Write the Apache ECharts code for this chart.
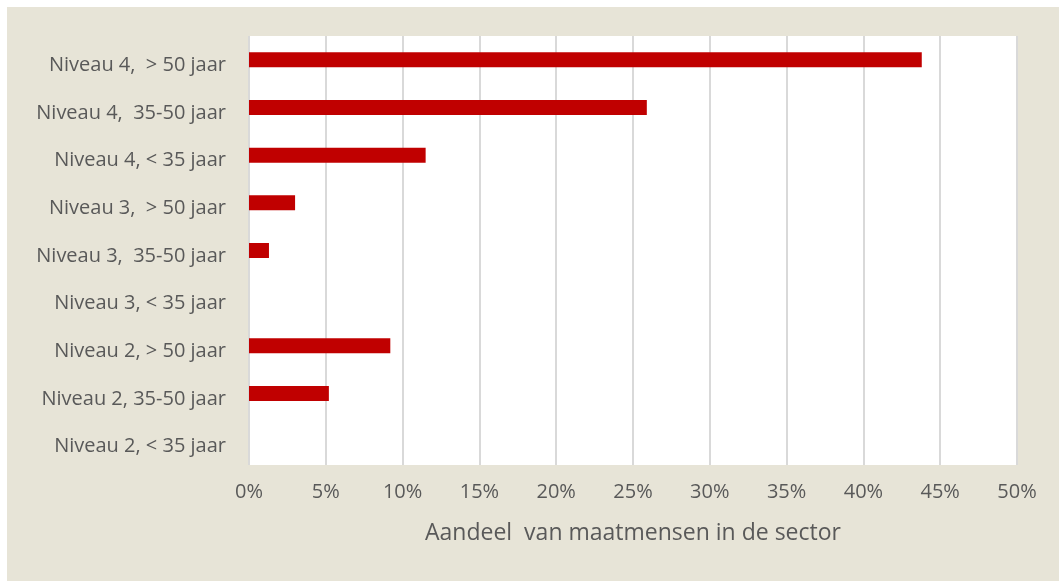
<!DOCTYPE html>
<html>
<head>
<meta charset="utf-8">
<script src="https://cdn.jsdelivr.net/npm/echarts@6/dist/echarts.min.js"></script>
<style>
  html, body { margin: 0; padding: 0; background: #ffffff; }
  #chart {
    position: absolute;
    left: 7px;
    top: 7px;
    width: 1052px;
    height: 574px;
    background: #e7e4d7;
  }
</style>
</head>
<body>
<div id="chart"></div>
<script>
// categories, bottom to top (category axis starts at the bottom)
const categories = [
  'Niveau 2, < 35 jaar',
  'Niveau 2, 35-50 jaar',
  'Niveau 2, > 50 jaar',
  'Niveau 3, < 35 jaar',
  'Niveau 3,  35-50 jaar',
  'Niveau 3,  > 50 jaar',
  'Niveau 4, < 35 jaar',
  'Niveau 4,  35-50 jaar',
  'Niveau 4,  > 50 jaar'
];
// share in percent
const shares = [0, 5.2, 9.2, 0, 1.3, 3.0, 11.5, 25.9, 43.8];
const xTicks = [0, 5, 10, 15, 20, 25, 30, 35, 40, 45, 50];

const labelFont = '"Open Sans", "DejaVu Sans", sans-serif';

const myChart = echarts.init(document.getElementById('chart'));
const option = {
  animation: false,
  grid: {
    left: 242,
    right: 42,
    top: 29,
    bottom: 116,
    show: true,
    backgroundColor: '#ffffff',
    borderWidth: 0
  },
  xAxis: {
    type: 'value',
    min: xTicks[0],
    max: xTicks[xTicks.length - 1],
    interval: 5,
    name: 'Aandeel  van maatmensen in de sector',
    nameLocation: 'middle',
    nameGap: 57,
    nameTextStyle: { color: '#595959', fontSize: 23, fontFamily: labelFont },
    axisLine: { show: false },
    axisTick: { show: false },
    axisLabel: {
      color: '#595959',
      fontSize: 20,
      fontFamily: labelFont,
      margin: 17,
      formatter: v => v + '%'
    },
    splitLine: { show: true, lineStyle: { color: '#d9d9d9', width: 2 } }
  },
  yAxis: {
    type: 'category',
    data: categories,
    axisLine: { show: false },
    axisTick: { show: false },
    axisLabel: {
      margin: 23,
      formatter: v => '{a|' + v + '}',
      rich: {
        a: {
          color: '#595959',
          fontSize: 20,
          fontFamily: labelFont,
          padding: [11, 0, 0, 0]
        }
      }
    },
    splitLine: { show: false }
  },
  series: [
    {
      type: 'bar',
      data: shares,
      barWidth: 15,
      itemStyle: { color: '#c00000' }
    }
  ]
};
option && myChart.setOption(option);
</script>
</body>
</html>
